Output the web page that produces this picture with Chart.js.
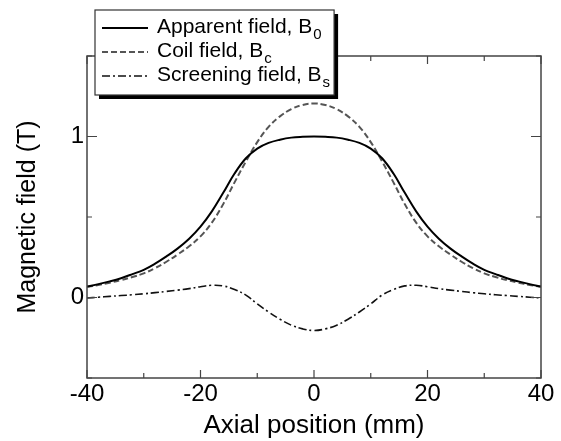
<!DOCTYPE html>
<html>
<head>
<meta charset="utf-8">
<script src="https://cdn.jsdelivr.net/npm/chart.js@4.4.0/dist/chart.umd.min.js"></script>
<style>
    html, body { margin: 0; padding: 0; background: #fff; }
    canvas { display: block; }
</style>
</head>
<body>
<canvas id="fieldChart" width="561" height="441"></canvas>
<script>
// Axial position (mm)
const positions = [-40, -38, -36, -34, -32, -30, -28, -26, -24, -22, -20, -18, -16, -14, -12, -10, -8, -6, -4, -2,
    0, 2, 4, 6, 8, 10, 12, 14, 16, 18, 20, 22, 24, 26, 28, 30, 32, 34, 36, 38, 40];

// Field values (T)
const apparentField = [0.068, 0.083, 0.10, 0.12, 0.145, 0.172, 0.21, 0.255, 0.305, 0.365, 0.44, 0.535, 0.65, 0.77, 0.865, 0.925, 0.96, 0.98, 0.993, 0.998,
    1.00, 0.998, 0.993, 0.98, 0.96, 0.925, 0.865, 0.77, 0.65, 0.535, 0.44, 0.365, 0.305, 0.255, 0.21, 0.172, 0.145, 0.12, 0.10, 0.083, 0.068];
const coilField = [0.066, 0.078, 0.092, 0.108, 0.127, 0.15, 0.183, 0.222, 0.268, 0.318, 0.38, 0.465, 0.58, 0.715, 0.845, 0.965, 1.06, 1.125, 1.17, 1.196,
    1.205, 1.196, 1.17, 1.125, 1.06, 0.965, 0.845, 0.715, 0.58, 0.465, 0.38, 0.318, 0.268, 0.222, 0.183, 0.15, 0.127, 0.108, 0.092, 0.078, 0.066];
const screeningField = [-0.003, 0.002, 0.007, 0.012, 0.017, 0.023, 0.03, 0.038, 0.046, 0.055, 0.067, 0.076, 0.072, 0.05, 0.015, -0.04, -0.09, -0.135, -0.172, -0.195,
    -0.205, -0.195, -0.172, -0.135, -0.09, -0.04, 0.015, 0.05, 0.072, 0.076, 0.067, 0.055, 0.046, 0.038, 0.03, 0.023, 0.017, 0.012, 0.007, 0.002, -0.003];

// Labels
const seriesNames = ['Apparent field, B', 'Coil field, B', 'Screening field, B'];
const seriesSubs = ['0', 'c', 's'];
const xTickLabels = [-40, -20, 0, 20, 40];
const yTickLabels = [0, 1];

const FONT = '"Liberation Sans", Arial, sans-serif';

function toPoints(values) {
    return positions.map((x, i) => ({ x: x, y: values[i] }));
}

// frame around the plot + inward ticks on all four sides
const frameTicks = {
    id: 'frameTicks',
    afterDraw(chart) {
        const ctx = chart.ctx;
        const a = chart.chartArea;
        const xs = chart.scales.x, ys = chart.scales.y;
        ctx.save();
        ctx.strokeStyle = '#444';
        ctx.lineWidth = 1.5;
        ctx.strokeRect(a.left, a.top, a.right - a.left, a.bottom - a.top);
        ctx.lineWidth = 1.2;
        ctx.beginPath();
        xs.ticks.forEach(t => {
            const px = xs.getPixelForValue(t.value);
            const len = xTickLabels.includes(t.value) ? 8 : 5;
            ctx.moveTo(px, a.bottom); ctx.lineTo(px, a.bottom - len);
            ctx.moveTo(px, a.top); ctx.lineTo(px, a.top + len);
        });
        ys.ticks.forEach(t => {
            const py = ys.getPixelForValue(t.value);
            const len = yTickLabels.includes(t.value) ? 10 : 5;
            ctx.moveTo(a.left, py); ctx.lineTo(a.left + len, py);
            ctx.moveTo(a.right, py); ctx.lineTo(a.right - len, py);
        });
        ctx.stroke();
        ctx.restore();
    }
};

// boxed legend with drop shadow and subscripts
const boxLegend = {
    id: 'boxLegend',
    afterDraw(chart) {
        const ctx = chart.ctx;
        const left = 95, top = 10, rowH = 24;
        const lineX0 = 102, lineX1 = 148, textX = 157;
        ctx.save();
        let maxEnd = 0;
        chart.data.datasets.forEach((ds, i) => {
            ctx.font = '21px ' + FONT;
            const w = ctx.measureText(seriesNames[i]).width;
            ctx.font = '15px ' + FONT;
            const ws = ctx.measureText(seriesSubs[i]).width;
            maxEnd = Math.max(maxEnd, textX + w + ws + 2);
        });
        const width = maxEnd - left + 3;
        const height = 85;
        ctx.fillStyle = '#000';
        ctx.fillRect(left + 4, top + 4, width, height);
        ctx.fillStyle = '#fff';
        ctx.fillRect(left, top, width, height);
        ctx.strokeStyle = '#333';
        ctx.lineWidth = 1.2;
        ctx.strokeRect(left, top, width, height);

        chart.data.datasets.forEach((ds, i) => {
            const base = top + 23 + i * rowH;
            ctx.beginPath();
            ctx.setLineDash(ds.borderDash || []);
            ctx.strokeStyle = ds.borderColor;
            ctx.lineWidth = ds.borderWidth;
            ctx.moveTo(lineX0, base - 5);
            ctx.lineTo(lineX1, base - 5);
            ctx.stroke();
            ctx.setLineDash([]);
            ctx.fillStyle = '#000';
            ctx.textBaseline = 'alphabetic';
            ctx.font = '21px ' + FONT;
            ctx.fillText(seriesNames[i], textX, base);
            const w = ctx.measureText(seriesNames[i]).width;
            ctx.font = '15px ' + FONT;
            ctx.fillText(seriesSubs[i], textX + w + 1, base + 6);
        });
        ctx.restore();
    }
};

const fieldChart = new Chart(document.getElementById('fieldChart'), {
    type: 'line',
    data: {
        datasets: [{
            label: seriesNames[0] + seriesSubs[0],
            data: toPoints(apparentField),
            borderColor: '#000',
            borderWidth: 2,
            pointRadius: 0,
            tension: 0.4
        }, {
            label: seriesNames[1] + seriesSubs[1],
            data: toPoints(coilField),
            borderColor: '#555',
            borderWidth: 2,
            borderDash: [6, 3],
            pointRadius: 0,
            tension: 0.4
        }, {
            label: seriesNames[2] + seriesSubs[2],
            data: toPoints(screeningField),
            borderColor: '#111',
            borderWidth: 1.6,
            borderDash: [8, 3, 2, 3],
            pointRadius: 0,
            tension: 0.4
        }]
    },
    options: {
        responsive: false,
        animation: false,
        devicePixelRatio: 1,
        layout: { padding: { left: 0, top: 56, right: 20, bottom: 0 } },
        plugins: {
            legend: { display: false },
            tooltip: { enabled: false }
        },
        scales: {
            x: {
                type: 'linear',
                min: -40,
                max: 40,
                grid: { display: false, drawTicks: false },
                border: { display: false },
                ticks: {
                    stepSize: 10,
                    autoSkip: false,
                    maxRotation: 0,
                    padding: 2,
                    color: '#000',
                    font: { family: FONT, size: 24 },
                    callback: v => xTickLabels.includes(v) ? String(v) : ''
                },
                title: {
                    display: true,
                    text: 'Axial position (mm)',
                    color: '#000',
                    font: { family: FONT, size: 26 },
                    padding: { top: 0, bottom: 0 }
                },
                afterFit: s => { s.height = 63; }
            },
            y: {
                min: -0.5,
                max: 1.5,
                grid: { display: false, drawTicks: false },
                border: { display: false },
                ticks: {
                    stepSize: 0.5,
                    autoSkip: false,
                    padding: 3,
                    color: '#000',
                    font: { family: FONT, size: 24 },
                    callback: v => yTickLabels.includes(v) ? String(v) : ''
                },
                title: {
                    display: true,
                    text: 'Magnetic field (T)',
                    color: '#000',
                    font: { family: FONT, size: 25 },
                    padding: { top: 13, bottom: 0 }
                },
                afterFit: s => { s.width = 87; }
            }
        }
    },
    plugins: [frameTicks, boxLegend]
});
</script>
</body>
</html>
